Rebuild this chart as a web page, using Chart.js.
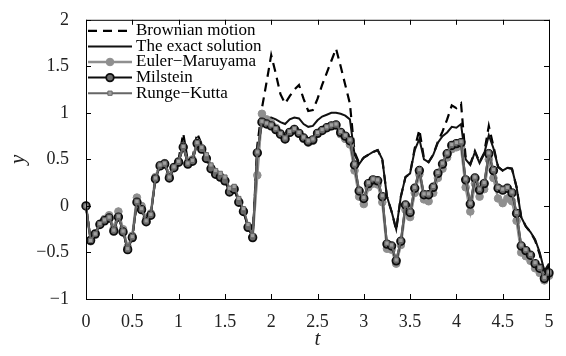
<!DOCTYPE html>
<html>
<head>
<meta charset="utf-8">
<script src="https://cdn.jsdelivr.net/npm/chart.js@4"></script>
<style>
  html, body { margin: 0; padding: 0; background: #fff; }
</style>
</head>
<body>
<canvas id="sde-chart" width="566" height="356"></canvas>
<script>
// time grid (t), step of the markers
const times = [
    0, 0.05, 0.1, 0.15, 0.2, 0.25, 0.3, 0.35, 0.4, 0.45,
    0.5, 0.55, 0.6, 0.65, 0.7, 0.75, 0.8, 0.85, 0.9, 0.95,
    1, 1.05, 1.1, 1.15, 1.2, 1.25, 1.3, 1.35, 1.4, 1.45,
    1.5, 1.55, 1.6, 1.65, 1.7, 1.75, 1.8, 1.85, 1.9, 1.95,
    2, 2.05, 2.1, 2.15, 2.2, 2.25, 2.3, 2.35, 2.4, 2.45,
    2.5, 2.55, 2.6, 2.65, 2.7, 2.75, 2.8, 2.85, 2.9, 2.95,
    3, 3.05, 3.1, 3.15, 3.2, 3.25, 3.3, 3.35, 3.4, 3.45,
    3.5, 3.55, 3.6, 3.65, 3.7, 3.75, 3.8, 3.85, 3.9, 3.95,
    4, 4.05, 4.1, 4.15, 4.2, 4.25, 4.3, 4.35, 4.4, 4.45,
    4.5, 4.55, 4.6, 4.65, 4.7, 4.75, 4.8, 4.85, 4.9, 4.95,
    5
];

const brownian = [
    0, -0.37, -0.30, -0.19, -0.15, -0.12, -0.26, -0.10, -0.28, -0.47,
    -0.34, 0.06, -0.02, -0.16, -0.09, 0.31, 0.45, 0.47, 0.32, 0.43,
    0.50, 0.78, 0.48, 0.51, 0.78, 0.66, 0.55, 0.42, 0.36, 0.33,
    0.28, 0.16, 0.19, 0.05, -0.05, -0.22, -0.34, 0.65, 1.05, 1.33,
    1.62, 1.42, 1.20, 1.10, 1.18, 1.25, 1.30, 1.15, 1.02, 1.03,
    1.15, 1.30, 1.43, 1.56, 1.69, 1.50, 1.30, 1.10, 0.58, 0.46,
    0.52, 0.55, 0.58, 0.60, 0.50, 0.10, -0.06, -0.26, 0.10, 0.31,
    0.35, 0.62, 0.82, 0.51, 0.47, 0.55, 0.69, 0.80, 0.93, 1.08,
    1.05, 1.10, 0.52, 0.45, 0.59, 0.47, 0.57, 0.86, 0.64, 0.42,
    0.38, 0.41, 0.40, 0.20, -0.12, -0.22, -0.28, -0.37, -0.52, -0.74,
    -0.64
];

const exact = [
    0, -0.36, -0.29, -0.19, -0.15, -0.12, -0.26, -0.10, -0.27, -0.45,
    -0.33, 0.06, -0.02, -0.16, -0.09, 0.30, 0.43, 0.45, 0.31, 0.42,
    0.48, 0.66, 0.46, 0.49, 0.69, 0.62, 0.52, 0.41, 0.35, 0.32,
    0.28, 0.16, 0.19, 0.05, -0.05, -0.22, -0.33, 0.60, 0.88, 0.94,
    0.95, 0.93, 0.90, 0.88, 0.93, 0.95, 0.94, 0.88, 0.85, 0.86,
    0.92, 0.96, 0.98, 1.00, 1.00, 0.99, 0.97, 0.93, 0.55, 0.45,
    0.52, 0.55, 0.58, 0.60, 0.50, 0.10, -0.06, -0.25, 0.10, 0.31,
    0.35, 0.60, 0.72, 0.50, 0.47, 0.55, 0.68, 0.75, 0.79, 0.85,
    0.84, 0.88, 0.50, 0.44, 0.58, 0.46, 0.56, 0.76, 0.62, 0.42,
    0.38, 0.41, 0.40, 0.20, -0.12, -0.22, -0.28, -0.36, -0.50, -0.70,
    -0.62
];

const eulerMaruyama = [
    0, -0.38, -0.31, -0.19, -0.14, -0.10, -0.24, -0.06, -0.25, -0.44,
    -0.32, 0.09, 0.00, -0.14, -0.08, 0.31, 0.44, 0.46, 0.33, 0.42,
    0.48, 0.64, 0.47, 0.50, 0.68, 0.62, 0.51, 0.41, 0.34, 0.31,
    0.27, 0.16, 0.18, 0.05, -0.05, -0.22, -0.33, 0.33, 0.99, 0.93,
    0.89, 0.84, 0.78, 0.72, 0.79, 0.83, 0.78, 0.72, 0.68, 0.70,
    0.78, 0.81, 0.84, 0.86, 0.87, 0.77, 0.72, 0.66, 0.38, 0.10,
    0.02, 0.20, 0.24, 0.23, 0.04, -0.46, -0.47, -0.62, -0.42, -0.04,
    -0.12, 0.14, 0.34, 0.07, 0.05, 0.14, 0.30, 0.40, 0.52, 0.61,
    0.63, 0.64, 0.20, -0.06, 0.24, 0.10, 0.18, 0.50, 0.30, 0.08,
    0.03, 0.08, 0.05, -0.16, -0.50, -0.54, -0.59, -0.67, -0.72, -0.80,
    -0.75
];

const milstein = [
    0, -0.37, -0.30, -0.20, -0.16, -0.13, -0.27, -0.12, -0.28, -0.47,
    -0.34, 0.04, -0.04, -0.17, -0.10, 0.29, 0.43, 0.45, 0.30, 0.41,
    0.47, 0.63, 0.45, 0.48, 0.67, 0.61, 0.51, 0.40, 0.34, 0.31,
    0.27, 0.15, 0.18, 0.04, -0.06, -0.23, -0.34, 0.57, 0.90, 0.88,
    0.86, 0.82, 0.77, 0.72, 0.79, 0.82, 0.78, 0.73, 0.69, 0.71,
    0.78, 0.81, 0.84, 0.86, 0.87, 0.79, 0.75, 0.70, 0.44, 0.16,
    0.08, 0.24, 0.28, 0.27, 0.10, -0.41, -0.43, -0.59, -0.38, 0.01,
    -0.07, 0.19, 0.38, 0.12, 0.12, 0.20, 0.35, 0.45, 0.56, 0.65,
    0.67, 0.68, 0.28, 0.02, 0.30, 0.17, 0.24, 0.56, 0.38, 0.19,
    0.17, 0.19, 0.14, -0.08, -0.43, -0.48, -0.53, -0.62, -0.67, -0.78,
    -0.72
];

const rungeKutta = [
    0, -0.37, -0.30, -0.19, -0.15, -0.12, -0.26, -0.11, -0.27, -0.46,
    -0.33, 0.05, -0.03, -0.16, -0.09, 0.30, 0.44, 0.46, 0.31, 0.42,
    0.48, 0.64, 0.46, 0.49, 0.68, 0.63, 0.55, 0.44, 0.38, 0.35,
    0.31, 0.19, 0.21, 0.08, -0.03, -0.20, -0.32, 0.58, 0.91, 0.89,
    0.87, 0.83, 0.78, 0.73, 0.80, 0.83, 0.79, 0.74, 0.70, 0.72,
    0.79, 0.82, 0.85, 0.87, 0.88, 0.80, 0.76, 0.71, 0.45, 0.17,
    0.09, 0.25, 0.29, 0.28, 0.11, -0.40, -0.42, -0.58, -0.37, 0.02,
    -0.06, 0.20, 0.39, 0.13, 0.13, 0.21, 0.36, 0.46, 0.57, 0.66,
    0.68, 0.69, 0.29, 0.03, 0.31, 0.18, 0.25, 0.57, 0.39, 0.20,
    0.18, 0.20, 0.15, -0.07, -0.42, -0.47, -0.52, -0.61, -0.66, -0.77,
    -0.71
];

const seriesNames = ['Brownian motion', 'The exact solution', 'Euler\u2212Maruyama', 'Milstein', 'Runge\u2212Kutta'];
const xTicks = [0, 0.5, 1, 1.5, 2, 2.5, 3, 3.5, 4, 4.5, 5];
const yTicks = [-1, -0.5, 0, 0.5, 1, 1.5, 2];

const SERIF = '"Liberation Serif", "DejaVu Serif", serif';

function toPoints(values) {
    return times.map((t, i) => ({ x: t, y: values[i] }));
}

function fmt(v) {
    return String(v).replace('-', '\u2212');
}

// box around the plot with inward ticks on all four sides (matlab style)
const frame = {
    id: 'frame',
    afterDatasetsDraw(chart) {
        const { ctx, chartArea: a, scales: { x, y } } = chart;
        ctx.save();
        ctx.strokeStyle = '#000';
        ctx.lineWidth = 1;
        ctx.strokeRect(a.left + 0.5, a.top + 0.5, a.right - a.left, a.bottom - a.top);
        ctx.beginPath();
        for (let v of xTicks) {
            const px = Math.round(x.getPixelForValue(v)) + 0.5;
            ctx.moveTo(px, a.bottom); ctx.lineTo(px, a.bottom - 5);
            ctx.moveTo(px, a.top); ctx.lineTo(px, a.top + 5);
        }
        for (let v of yTicks) {
            const py = Math.round(y.getPixelForValue(v)) + 0.5;
            ctx.moveTo(a.left, py); ctx.lineTo(a.left + 5, py);
            ctx.moveTo(a.right, py); ctx.lineTo(a.right - 5, py);
        }
        ctx.stroke();
        ctx.restore();
    }
};

// legend in the top left corner of the plot, in the order the series were given
const legendBox = {
    id: 'legendBox',
    afterDraw(chart) {
        const { ctx, chartArea: a } = chart;
        const x0 = a.left + 2;
        const x1 = a.left + 46;
        chart.data.datasets.forEach((ds, i) => {
            const yy = a.top + 11 + i * 15.6;
            ctx.save();
            ctx.strokeStyle = ds.borderColor;
            ctx.lineWidth = ds.borderWidth;
            ctx.setLineDash(ds.borderDash || []);
            ctx.beginPath();
            ctx.moveTo(x0, yy);
            ctx.lineTo(x1, yy);
            ctx.stroke();
            ctx.setLineDash([]);
            if (ds.pointRadius > 0) {
                ctx.fillStyle = ds.pointBackgroundColor;
                ctx.strokeStyle = ds.pointBorderColor;
                ctx.lineWidth = ds.pointBorderWidth;
                Chart.helpers.drawPoint(ctx, {
                    pointStyle: ds.pointStyle,
                    radius: ds.pointRadius,
                    borderWidth: ds.pointBorderWidth,
                    rotation: 0
                }, (x0 + x1) / 2, yy);
            }
            ctx.fillStyle = '#000';
            ctx.font = '17px ' + SERIF;
            ctx.textBaseline = 'middle';
            ctx.fillText(ds.label, x1 + 4, yy);
            ctx.restore();
        });
    }
};

const ctx = document.getElementById('sde-chart').getContext('2d');

new Chart(ctx, {
    type: 'line',
    data: {
        datasets: [
            {
                label: seriesNames[0],
                data: toPoints(brownian),
                borderColor: '#000',
                borderWidth: 2.2,
                borderDash: [9, 6],
                pointRadius: 0,
                order: 5
            },
            {
                label: seriesNames[1],
                data: toPoints(exact),
                borderColor: '#111',
                borderWidth: 2,
                pointRadius: 0,
                order: 4
            },
            {
                label: seriesNames[2],
                data: toPoints(eulerMaruyama),
                borderColor: '#8f8f8f',
                borderWidth: 2.5,
                pointStyle: 'circle',
                pointRadius: 3.8,
                pointBackgroundColor: '#8f8f8f',
                pointBorderColor: '#8f8f8f',
                pointBorderWidth: 1,
                order: 3
            },
            {
                label: seriesNames[3],
                data: toPoints(milstein),
                borderColor: '#0d0d0d',
                borderWidth: 2,
                pointStyle: 'circle',
                pointRadius: 3.8,
                pointBackgroundColor: '#6a6a6a',
                pointBorderColor: '#0d0d0d',
                pointBorderWidth: 1.8,
                order: 2
            },
            {
                label: seriesNames[4],
                data: toPoints(rungeKutta),
                borderColor: '#666',
                borderWidth: 2,
                pointStyle: 'rect',
                pointRadius: 3,
                pointBackgroundColor: '#a0a0a0',
                pointBorderColor: '#666',
                pointBorderWidth: 1,
                order: 1
            }
        ]
    },
    options: {
        responsive: false,
        animation: false,
        clip: 8,
        layout: {
            padding: { left: 0, right: 17, top: 16, bottom: 0 }
        },
        scales: {
            x: {
                type: 'linear',
                min: 0,
                max: 5,
                grid: { display: false },
                border: { display: false },
                afterBuildTicks: (scale) => { scale.ticks = xTicks.map(v => ({ value: v })); },
                afterFit: (scale) => { scale.height = 57; },
                ticks: {
                    color: '#222',
                    padding: 4,
                    font: { family: SERIF, size: 18 },
                    callback: (v) => fmt(v)
                },
                title: {
                    display: true,
                    text: 't',
                    color: '#222',
                    font: { family: SERIF, size: 21, style: 'italic' },
                    padding: { top: 0, bottom: 4 }
                }
            },
            y: {
                type: 'linear',
                min: -1,
                max: 2,
                grid: { display: false },
                border: { display: false },
                afterBuildTicks: (scale) => { scale.ticks = yTicks.map(v => ({ value: v })); },
                afterFit: (scale) => { scale.width = 86; },
                ticks: {
                    color: '#222',
                    padding: 9,
                    font: { family: SERIF, size: 18 },
                    callback: (v) => fmt(v)
                },
                title: {
                    display: true,
                    text: 'y',
                    color: '#222',
                    font: { family: SERIF, size: 21, style: 'italic' },
                    padding: { top: 6, bottom: 0 }
                }
            }
        },
        plugins: {
            legend: { display: false },
            tooltip: { enabled: false }
        }
    },
    plugins: [frame, legendBox]
});
</script>
</body>
</html>
